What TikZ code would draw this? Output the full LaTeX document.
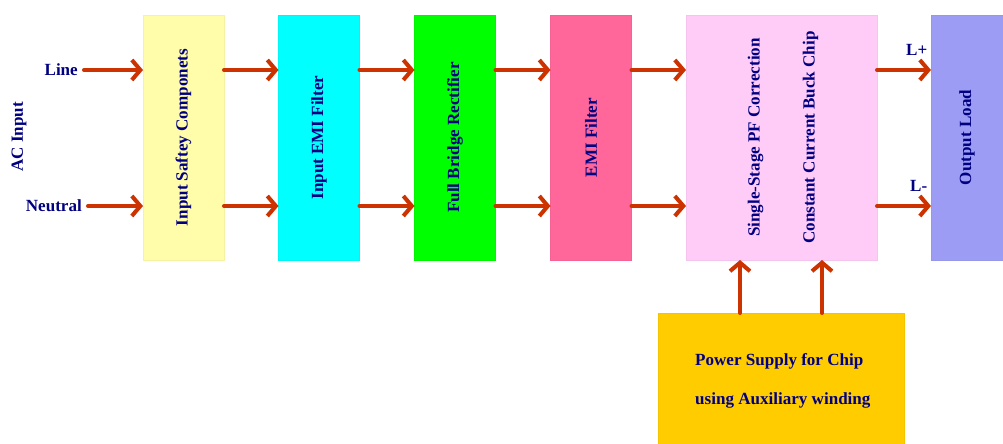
\documentclass[tikz,border=0pt]{standalone}
\usepackage{fontspec}
\setmainfont{Liberation Serif}
\usepackage{tikz}
\usetikzlibrary{arrows.meta, calc, positioning}
\definecolor{navytext}{HTML}{000080}
\definecolor{flowred}{HTML}{CC3300}
\definecolor{safecol}{HTML}{FFFCAA}
\definecolor{cyancol}{HTML}{00FFFF}
\definecolor{greencol}{HTML}{00FF00}
\definecolor{emicol}{HTML}{FF6699}
\definecolor{chipcol}{HTML}{FFCCF8}
\definecolor{loadcol}{HTML}{9C9CF5}
\definecolor{supplycol}{HTML}{FFCC00}

\begin{document}
\begin{tikzpicture}[x=0.2mm, y=-0.2mm,% one unit = one pixel of the drawing
          > = {Straight Barb[length=1.7mm, width=4mm]}, % from arrows.meta
block/.style = {draw=#1!96!black, thin, fill=#1,
                minimum width=16.2mm, minimum height=49mm,
                inner sep=0pt, outer sep=0pt},
  txt/.style = {font=\bfseries\fontsize{9.7}{12}\selectfont, text=navytext},
 vtxt/.style = {txt, rotate=90},
 flow/.style = {->, draw=flowred, line width=2.3pt, line cap=round}
                    ]
    \useasboundingbox (0,0) rectangle (1003,444);
    % rows of the two wires
    \coordinate (top) at (0,70);
    \coordinate (bot) at (0,206);
    \coordinate (xa)  at (740,0);
    \coordinate (xb)  at (822,0);

    % blocks
    \node (safe)   [block=safecol]  at (183.5,137.5) {};
    \node (emi1)   [block=cyancol]  at (319,137.5) {};
    \node (rect)   [block=greencol] at (455,137.5) {};
    \node (emi2)   [block=emicol]   at (591,137.5) {};
    \node (chip)   [block=chipcol, minimum width=38.2mm] at (781.5,137.5) {};
    \node (load)   [block=loadcol, minimum width=14.4mm] at (967,137.5) {};
    \node (supply) [block=supplycol, minimum width=49.2mm, minimum height=26.2mm]
                   at (781,378.5) {};

    % block texts
    \node (tsafe) [vtxt] at (safe) {Input Saftey Componets};
    \node (temi1) [vtxt] at (emi1) {Input EMI Filter};
    \node (trect) [vtxt] at (rect) {Full Bridge Rectifier};
    \node (temi2) [vtxt] at (emi2) {EMI Filter};
    \node (tpfc)  [vtxt] at ([xshift=-5.2mm]chip.center) {Single-Stage PF Correction};
    \node (tbuck) [vtxt] at ([xshift=5.8mm]chip.center)  {Constant Current Buck Chip};
    \node (tload) [vtxt] at (load) {Output Load};
    \node (tsup)  [txt, anchor=west, align=left] at (689,381)
                  {Power Supply for Chip\\[10pt] using Auxiliary winding};

    % input side
    \node (ac)      [vtxt] at (19,137) {AC Input};
    \node (line)    [txt, anchor=east] at (84,70)  {Line};
    \node (neutral) [txt, anchor=east] at (88,206) {Neutral};

    % connections
    \draw[flow] (line.east) -- (safe.west |- top);
    \draw[flow] (neutral.east) -- (safe.west |- bot);
    \foreach \a/\b in {safe/emi1, emi1/rect, rect/emi2, emi2/chip}
    {
        \draw[flow] (\a.east |- top) -- (\b.west |- top);
        \draw[flow] (\a.east |- bot) -- (\b.west |- bot);
    }
    \draw[flow] (chip.east |- top) -- (load.west |- top)
        node[txt, pos=1, anchor=south east, inner sep=1pt, yshift=2.2mm] (lplus) {L+};
    \draw[flow] (chip.east |- bot) -- (load.west |- bot)
        node[txt, pos=1, anchor=south east, inner sep=1pt, yshift=2.2mm] (lminus) {L-};
    \draw[flow] (supply.north -| xa) -- (chip.south -| xa);
    \draw[flow] (supply.north -| xb) -- (chip.south -| xb);
\end{tikzpicture}
\end{document}
